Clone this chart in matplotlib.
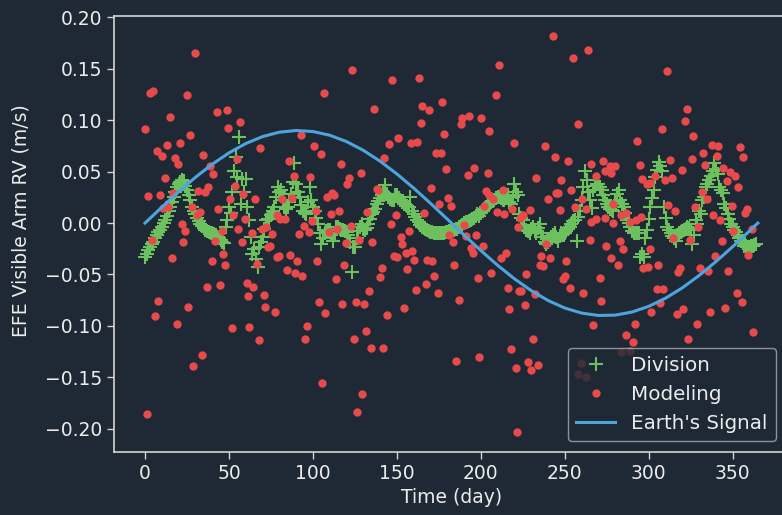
import matplotlib
matplotlib.use('Agg')
import matplotlib.pyplot as plt
import numpy as np

# daily division estimate, day 0 .. 364
division_rv = [
    -0.033, -0.030, -0.026, -0.023, -0.020, -0.018, -0.015, -0.012, -0.009, -0.007,
    -0.004, 0.000, 0.003, 0.007, 0.012, 0.016, 0.020, 0.025, 0.030, 0.035,
    0.038, 0.040, 0.042, 0.041, 0.036, 0.032, 0.027, 0.022, 0.016, 0.012,
    0.009, 0.005, 0.002, -0.001, -0.003, -0.005, -0.007, -0.008, -0.009, -0.010,
    -0.010, -0.011, -0.012, -0.014, -0.015, -0.016, -0.018, -0.019, -0.004, 0.003,
    0.016, 0.010, 0.030, 0.051, 0.064, 0.045, 0.084, 0.019, 0.043, 0.030,
    0.043, 0.016, 0.003, -0.014, -0.030, -0.025, -0.035, -0.043, -0.023, -0.018,
    -0.014, -0.006, 0.003, 0.004, 0.004, 0.008, 0.012, 0.016, 0.025, 0.035,
    0.030, 0.032, 0.022, 0.016, 0.014, 0.016, 0.020, 0.028, 0.040, 0.058,
    0.038, 0.030, 0.025, 0.018, 0.012, 0.010, 0.009, 0.020, 0.035, 0.022,
    0.016, 0.012, 0.005, -0.001, -0.010, -0.020, -0.015, -0.010, -0.008, -0.007,
    -0.007, -0.012, -0.017, -0.010, -0.004, -0.004, -0.006, -0.007, -0.007, -0.008,
    -0.009, -0.012, -0.018, -0.048, -0.023, -0.023, -0.015, -0.008, -0.004, -0.001,
    -0.006, -0.007, -0.005, -0.001, 0.004, 0.009, 0.011, 0.014, 0.019, 0.021,
    0.024, 0.027, 0.030, 0.037, 0.028, 0.025, 0.023, 0.022, 0.022, 0.027,
    0.027, 0.024, 0.022, 0.020, 0.019, 0.019, 0.017, 0.016, 0.025, 0.012,
    0.009, 0.006, 0.003, 0.001, -0.002, -0.004, -0.005, -0.006, -0.007, -0.008,
    -0.009, -0.009, -0.010, -0.010, -0.010, -0.010, -0.010, -0.010, -0.010, -0.009,
    -0.009, -0.008, -0.008, -0.007, -0.007, -0.006, -0.006, -0.004, -0.003, -0.002,
    0.000, 0.001, 0.001, 0.002, 0.003, 0.004, 0.005, 0.007, 0.009, 0.007,
    0.010, 0.012, 0.014, 0.016, 0.018, 0.019, 0.020, 0.021, 0.022, 0.024,
    0.025, 0.025, 0.024, 0.022, 0.022, 0.024, 0.027, 0.020, 0.019, 0.025,
    0.038, 0.030, 0.027, 0.009, 0.005, 0.003, -0.002, -0.007, -0.008, -0.010,
    -0.006, -0.004, -0.008, -0.010, -0.005, -0.001, -0.010, -0.014, -0.018, -0.020,
    -0.018, -0.016, -0.014, -0.012, -0.010, -0.014, -0.017, -0.013, -0.010, -0.011,
    -0.010, -0.008, -0.006, -0.004, -0.001, 0.002, 0.003, -0.017, 0.006, 0.012,
    0.022, 0.035, 0.051, 0.042, 0.030, 0.022, 0.015, 0.032, 0.036, 0.038,
    0.038, 0.035, 0.032, 0.027, 0.022, 0.019, 0.016, 0.014, 0.013, 0.012,
    0.020, 0.028, 0.032, 0.022, 0.019, 0.016, 0.010, 0.003, 0.000, -0.004,
    -0.008, -0.010, -0.010, -0.010, -0.010, -0.033, -0.030, -0.033, -0.015, -0.007,
    0.004, 0.016, 0.024, 0.032, 0.045, 0.052, 0.059, 0.055, 0.051, 0.016,
    0.005, -0.004, -0.007, -0.010, -0.013, -0.015, -0.017, -0.012, -0.010, -0.009,
    -0.008, -0.007, -0.006, -0.004, -0.005, -0.007, -0.020, -0.012, 0.003, -0.001,
    0.012, 0.009, 0.022, 0.025, 0.035, 0.038, 0.042, 0.046, 0.051, 0.058,
    0.053, 0.048, 0.035, 0.032, 0.029, 0.019, 0.015, 0.009, 0.004, -0.001,
    -0.004, -0.007, -0.009, -0.012, -0.015, -0.017, -0.019, -0.022, -0.022, -0.023,
    -0.023, -0.022, -0.022, -0.021, -0.020,
]
division_day = np.arange(len(division_rv))

modeling_day = [
    29.8, 3.0, 4.6, 24.8, 14.9, 0.0, 42.7, 48.6, 56.6, 49.6,
    26.8, 20.8, 12.9, 6.9, 9.9, 17.9, 19.9, 34.7, 38.7, 40.7,
    54.6, 11.9, 2.0, 8.9, 16.9, 31.8, 35.7, 37.7, 53.6, 58.6,
    50.6, 10.9, 13.9, 27.8, 32.8, 30.8, 43.7, 52.6, 59.6, 55.6,
    21.8, 23.8, 22.8, 4.0, 45.7, 41.7, 57.6, 46.7, 15.9, 39.7,
    47.6, 60.6, 36.7, 44.7, 61.5, 7.9, 25.8, 6.0, 18.9, 51.6,
    62.0, 33.8, 28.8, 1.0,
    123.5, 106.6, 136.4, 92.7, 68.5, 100.7, 104.6, 116.5, 142.5, 85.6,
    128.5, 121.5, 120.5, 88.5, 98.5, 137.9, 139.0, 111.6, 108.6, 112.6,
    65.5, 81.6, 87.5, 132.4, 110.6, 115.5, 101.7, 78.8, 80.4, 83.4,
    94.7, 99.7, 91.5, 97.5, 69.5, 71.9, 75.4, 63.7, 109.6, 114.6,
    122.5, 127.5, 119.5, 135.4, 73.5, 74.5, 78.4, 79.6, 86.6, 66.7,
    90.5, 102.4, 84.6, 89.5, 93.5, 118.5, 113.6, 141.4, 140.2, 64.5,
    71.1, 71.7, 77.6, 133.4, 103.6, 107.4, 117.5, 125.5, 130.4, 67.7,
    96.5, 95.5, 131.4, 124.5, 134.4, 141.9, 105.4, 129.4, 126.5,
    211.0, 147.3, 163.2, 209.0, 177.1, 165.2, 169.2, 189.0, 193.0, 188.0,
    199.9, 164.2, 178.1, 205.0, 150.9, 145.3, 158.2, 162.2, 219.8, 173.1,
    176.1, 179.1, 196.2, 192.2, 204.1, 170.2, 202.9, 204.9, 207.5, 213.0,
    180.3, 182.2, 175.3, 201.9, 166.2, 209.9, 213.8, 218.8, 149.3, 146.3,
    190.2, 222.2, 157.2, 152.3, 153.3, 181.3, 183.2, 191.2, 197.1, 194.2,
    195.2, 201.1, 215.0, 212.1, 159.2, 155.3, 148.3, 150.3, 160.2, 168.2,
    171.1, 184.2, 156.2, 172.3, 198.1, 206.1, 167.2, 161.2, 174.3, 216.0,
    223.0, 187.0, 154.3, 144.3, 217.0, 218.0, 199.1, 185.2, 221.0, 221.8,
    243.0, 254.9, 263.9, 257.9, 292.8, 238.1, 244.0, 252.0, 265.8, 272.8,
    276.8, 279.8, 273.8, 277.8, 294.8, 233.1, 248.0, 268.8, 295.8, 298.8,
    300.8, 254.0, 245.0, 246.0, 240.0, 260.0, 247.0, 255.9, 278.8, 225.1,
    229.1, 262.8, 223.2, 265.8, 268.8, 273.8, 278.8, 283.7, 286.7, 288.7,
    292.6, 295.6, 239.0, 264.8, 274.8, 284.7, 282.7, 300.6, 236.1, 241.0,
    235.1, 237.1, 251.0, 277.8, 281.7, 296.7, 299.8, 227.1, 250.0, 249.0,
    270.8, 224.1, 232.1, 252.9, 260.9, 271.8, 226.1, 301.6, 266.8, 291.7,
    286.7, 290.7, 231.1, 283.7, 288.7, 259.9, 257.9, 262.9, 228.1, 230.1,
    234.1,
    310.7, 322.6, 321.6, 307.7, 326.6, 337.5, 341.5, 354.3, 332.5, 340.5,
    356.2, 325.6, 312.7, 333.5, 344.5, 348.4, 351.4, 319.6, 303.7, 313.7,
    309.7, 346.4, 353.3, 331.5, 334.5, 311.7, 327.6, 315.7, 349.4, 358.4,
    357.3, 338.5, 342.5, 329.6, 350.4, 361.3, 314.7, 324.6, 343.5, 339.5,
    359.3, 305.7, 318.6, 317.6, 330.5, 335.5, 347.4, 304.7, 308.7, 352.3,
    355.3, 306.7, 316.7, 320.6, 336.5, 345.4, 328.6, 323.6, 362.3,
]
modeling_rv = [
    0.165, 0.126, 0.128, 0.124, 0.103, 0.091, 0.108, 0.110, 0.098, 0.092,
    0.086, 0.078, 0.076, 0.070, 0.065, 0.063, 0.057, 0.066, 0.055, 0.048,
    0.062, 0.044, 0.026, 0.027, 0.029, 0.031, 0.030, 0.035, 0.036, 0.028,
    0.023, 0.015, 0.016, 0.016, 0.011, 0.008, 0.014, 0.008, 0.004, -0.006,
    -0.001, -0.008, -0.018, -0.016, -0.008, -0.017, -0.018, -0.030, -0.034, -0.037,
    -0.041, -0.058, -0.062, -0.060, -0.071, -0.076, -0.082, -0.090, -0.098, -0.102,
    -0.101, -0.128, -0.139, -0.186,
    0.149, 0.126, 0.111, 0.086, 0.073, 0.075, 0.067, 0.057, 0.063, 0.060,
    0.049, 0.044, 0.038, 0.046, 0.045, 0.033, 0.032, 0.029, 0.025, 0.027,
    0.023, 0.023, 0.024, 0.011, 0.009, 0.012, 0.012, 0.008, 0.004, 0.004,
    -0.003, 0.002, -0.011, -0.009, -0.006, -0.004, -0.011, -0.010, -0.009, -0.006,
    -0.003, -0.016, -0.019, -0.018, -0.023, -0.022, -0.033, -0.032, -0.031, -0.040,
    -0.037, -0.037, -0.046, -0.049, -0.051, -0.041, -0.054, -0.044, -0.052, -0.062,
    -0.070, -0.082, -0.086, -0.066, -0.077, -0.087, -0.079, -0.077, -0.079, -0.114,
    -0.100, -0.113, -0.105, -0.113, -0.121, -0.121, -0.155, -0.166, -0.184,
    0.154, 0.139, 0.141, 0.124, 0.118, 0.114, 0.110, 0.102, 0.104, 0.096,
    0.102, 0.097, 0.087, 0.089, 0.083, 0.077, 0.078, 0.079, 0.078, 0.068,
    0.068, 0.053, 0.054, 0.047, 0.049, 0.034, 0.031, 0.027, 0.023, 0.032,
    0.024, 0.017, 0.019, 0.017, 0.010, 0.011, 0.009, 0.014, 0.008, -0.001,
    -0.002, -0.004, -0.008, -0.014, -0.020, -0.012, -0.018, -0.013, -0.012, -0.024,
    -0.029, -0.022, -0.029, -0.034, -0.027, -0.029, -0.032, -0.033, -0.036, -0.036,
    -0.037, -0.041, -0.045, -0.051, -0.053, -0.049, -0.059, -0.065, -0.068, -0.063,
    -0.066, -0.075, -0.083, -0.089, -0.084, -0.122, -0.130, -0.134, -0.141, -0.203,
    0.182, 0.160, 0.168, 0.096, 0.080, 0.075, 0.064, 0.060, 0.057, 0.060,
    0.055, 0.055, 0.051, 0.049, 0.056, 0.044, 0.042, 0.046, 0.043, 0.038,
    0.039, 0.032, 0.029, 0.029, 0.023, 0.023, 0.013, 0.016, 0.019, 0.008,
    0.013, 0.014, 0.005, 0.001, 0.004, 0.005, 0.000, 0.008, 0.010, 0.001,
    0.003, 0.006, -0.020, -0.016, -0.022, -0.025, -0.017, -0.025, -0.032, -0.034,
    -0.041, -0.042, -0.037, -0.034, -0.041, -0.044, -0.043, -0.050, -0.051, -0.054,
    -0.053, -0.066, -0.069, -0.063, -0.068, -0.076, -0.080, -0.086, -0.099, -0.098,
    -0.109, -0.116, -0.113, -0.125, -0.124, -0.136, -0.147, -0.150, -0.135, -0.143,
    -0.138,
    0.148, 0.111, 0.099, 0.091, 0.085, 0.076, 0.075, 0.074, 0.068, 0.065,
    0.064, 0.062, 0.061, 0.056, 0.054, 0.050, 0.046, 0.052, 0.046, 0.044,
    0.042, 0.041, 0.035, 0.030, 0.023, 0.018, 0.016, 0.012, 0.017, 0.014,
    0.010, 0.008, 0.003, -0.004, -0.008, -0.006, -0.015, -0.016, -0.017, -0.032,
    -0.031, -0.041, -0.044, -0.048, -0.044, -0.047, -0.047, -0.064, -0.064, -0.068,
    -0.077, -0.078, -0.088, -0.084, -0.086, -0.083, -0.098, -0.113, -0.106,
]

# Earth's reflex signal, sampled every 10 days
earth_day = [0, 10, 20, 30, 40, 50, 60, 70, 80, 90,
             100, 110, 120, 130, 140, 150, 160, 170, 180, 190,
             200, 210, 220, 230, 240, 250, 260, 270, 280, 290,
             300, 310, 320, 330, 340, 350, 360, 365]
earth_rv = [0.0, 0.01542, 0.03038, 0.04444, 0.05719, 0.06823, 0.07730, 0.08404, 0.08832, 0.08998,
            0.08898, 0.08535, 0.07920, 0.07071, 0.06013, 0.04777, 0.03399, 0.01922, 0.00387, -0.01159,
            -0.02670, -0.04103, -0.05416, -0.06566, -0.07524, -0.08258, -0.08749, -0.08981, -0.08948, -0.08650,
            -0.08096, -0.07304, -0.06297, -0.05100, -0.03754, -0.02298, -0.00774, 0.0]

bg = '#1e2935'
fg = '#ececec'
spine_col = '#d4d4d4'
green = '#6cc15e'
red = '#e84a4c'
blue = '#4ea4dc'

fig = plt.figure(figsize=(7.82, 5.15), dpi=100, facecolor=bg)
ax = fig.add_axes([0.1463, 0.1229, 0.862, 0.846], facecolor=bg)

ax.plot(division_day, division_rv, '+', color=green, ms=10.5, mew=1.5, label='Division')
ax.plot(modeling_day, modeling_rv, 'o', color=red, ms=6, mec='none', label='Modeling')
ax.plot(earth_day, earth_rv, '-', color=blue, lw=2.2, label="Earth's Signal")

for s in ax.spines.values():
    s.set_color(spine_col)
    s.set_linewidth(1.2)

ax.tick_params(colors=spine_col, labelcolor=fg, labelsize=13.5, length=5, width=1)
ax.set_xlabel('Time (day)', color=fg, fontsize=13.5)
ax.set_ylabel('EFE Visible Arm RV (m/s)', color=fg, fontsize=13.5)
ax.yaxis.set_label_coords(-0.125, 0.53)

leg = ax.legend(loc='lower right', bbox_to_anchor=(775.7 / 782, 74.3 / 515),
                bbox_transform=fig.transFigure, borderaxespad=0, fontsize=14.3,
                facecolor=bg, edgecolor='#a9adb1', framealpha=0.8)
for t in leg.get_texts():
    t.set_color(fg)

fig.savefig('out.png', dpi=100, facecolor=bg)
